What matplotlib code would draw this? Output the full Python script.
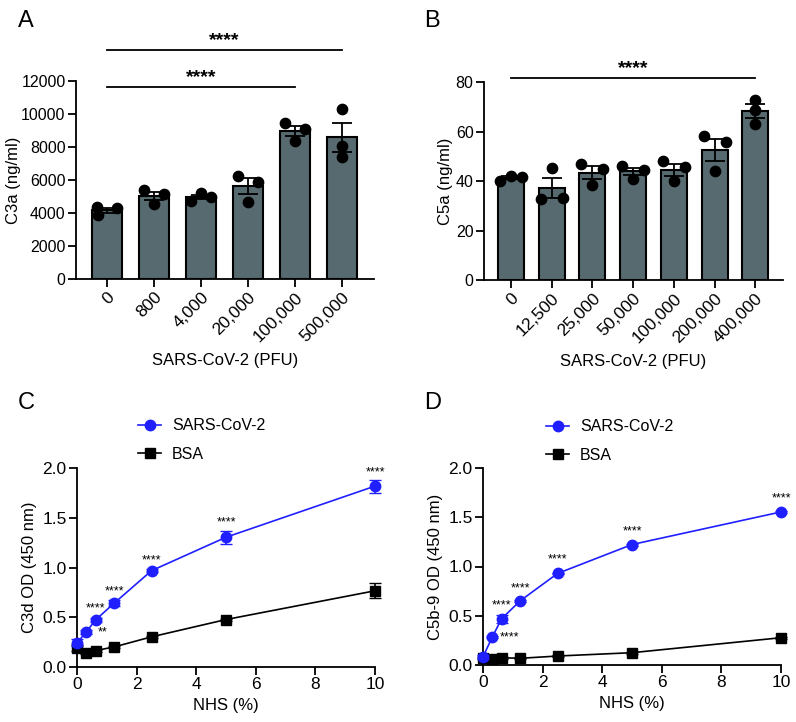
import numpy as np
import matplotlib
matplotlib.use('Agg')
import matplotlib.pyplot as plt
from matplotlib.lines import Line2D

plt.rcParams['font.family'] = ['Liberation Sans', 'DejaVu Sans']
plt.rcParams['axes.linewidth'] = 1.3

# panel A: C3a individual points
a_labels = ['0', '800', '4,000', '20,000', '100,000', '500,000']
a_points = [[4380, 3880, 4280],
            [5390, 4545, 5150],
            [4730, 5190, 4990],
            [6260, 4690, 5900],
            [9430, 8360, 9110],
            [10280, 8080, 7370]]
a_jitter = [[-0.22, -0.2, 0.22], [-0.22, 0, 0.22], [-0.22, 0, 0.22],
            [-0.22, 0, 0.22], [-0.22, 0, 0.22], [0, 0, 0]]

# panel B: C5a individual points
b_labels = ['0', '12,500', '25,000', '50,000', '100,000', '200,000', '400,000']
b_points = [[40.1, 42.2, 41.6],
            [45.2, 32.8, 33.3],
            [46.8, 38.5, 44.9],
            [46.1, 41.0, 44.5],
            [48.2, 39.8, 45.5],
            [58.3, 44.0, 55.6],
            [72.9, 68.8, 63.2]]
b_jitter = [[-0.27, 0, 0.27], [0, -0.27, 0.27], [-0.27, 0, 0.27], [-0.27, 0, 0.27],
            [-0.27, 0, 0.27], [-0.27, 0, 0.27], [0, 0, 0]]

# panels C/D: NHS titration
nhs = [0, 0.3125, 0.625, 1.25, 2.5, 5, 10]
c_sars = [0.242, 0.353, 0.474, 0.642, 0.968, 1.304, 1.818]
c_sars_err = [0.035, 0.02, 0.02, 0.03, 0.015, 0.064, 0.066]
c_bsa = [0.195, 0.145, 0.165, 0.202, 0.303, 0.477, 0.766]
c_bsa_err = [0.03, 0.01, 0.01, 0.01, 0.01, 0.01, 0.074]
d_sars = [0.084, 0.284, 0.470, 0.652, 0.929, 1.223, 1.554]
d_sars_err = [0.02, 0.01, 0.04, 0.01, 0.01, 0.01, 0.01]
d_bsa = [0.074, 0.061, 0.074, 0.068, 0.091, 0.125, 0.277]
d_bsa_err = [0.01, 0.01, 0.01, 0.01, 0.01, 0.01, 0.01]

BAR = '#566a70'
BLUE = '#1f1fff'

fig = plt.figure(figsize=(7.96, 7.22), dpi=100)
W, H = 796., 722.

def box(l, r, b, t):
    return [l / W, 1 - b / H, (r - l) / W, (b - t) / H]

def style(ax):
    for s in ['top', 'right']:
        ax.spines[s].set_visible(False)
    ax.tick_params(direction='out', length=5.5, width=1.3, labelsize=11.5, pad=2)

def bar_panel(ax, labels, points, jitter, ymax, ystep, ylabel, lpad):
    x = np.arange(len(labels))
    pts = np.array(points, dtype=float)
    means = pts.mean(axis=1)
    sem = pts.std(axis=1, ddof=1) / np.sqrt(pts.shape[1])
    ax.bar(x, means, width=0.64, color=BAR, edgecolor='black', linewidth=1.5, zorder=2)
    ax.errorbar(x, means, yerr=sem, fmt='none', ecolor='black', elinewidth=1.3,
                capsize=7, capthick=1.3, zorder=3)
    for i in range(len(labels)):
        ax.scatter(x[i] + np.array(jitter[i]), pts[i], s=55, color='black', zorder=4)
    style(ax)
    ax.set_xticks(x)
    ax.set_xticklabels(labels, rotation=45, ha='right', rotation_mode='anchor', fontsize=12.5)
    ax.set_yticks(np.arange(0, ymax + 1, ystep))
    ax.set_ylim(0, ymax)
    ax.set_xlim(-0.66, len(labels) - 1 + 0.68)
    ax.set_xlabel('SARS-CoV-2 (PFU)', fontsize=12, labelpad=6)
    ax.set_ylabel(ylabel, fontsize=12, labelpad=lpad)

def sig(ax, x0, x1, y, text, dy):
    ax.plot([x0, x1], [y, y], color='black', lw=1.3, clip_on=False)
    ax.text((x0 + x1) / 2, y + dy, text, ha='center', va='bottom', fontsize=14,
            fontweight='bold', clip_on=False)

# A
axA = fig.add_axes(box(76, 374, 279, 81))
bar_panel(axA, a_labels, a_points, a_jitter, 12000, 2000, 'C3a (ng/ml)', 0)
sig(axA, 0, 5, 13900, '****', 60)
sig(axA, 0, 4, 11650, '****', 60)

# B
axB = fig.add_axes(box(484, 783, 280, 82))
bar_panel(axB, b_labels, b_points, b_jitter, 80, 20, 'C5a (ng/ml)', 2)
sig(axB, 0, 6, 81.6, '****', 0.4)

def line_panel(ax, sars, sars_err, bsa, bsa_err, ylabel, stars, side):
    ax.errorbar(nhs, bsa, yerr=bsa_err, color='black', marker='s', ms=7, lw=1.2,
                capsize=4, elinewidth=1.2, clip_on=False, zorder=3)
    ax.errorbar(nhs, sars, yerr=sars_err, color=BLUE, marker='o', ms=7.5, lw=1.2,
                capsize=4, elinewidth=1.2, clip_on=False, zorder=4)
    for xi, yt in zip(nhs[2:], stars):
        ax.text(xi, yt, '****', ha='center', va='bottom', fontsize=9)
    ax.text(side[0], side[1], side[2], ha='left', va='center', fontsize=9)
    style(ax)
    ax.set_xlim(0, 10)
    ax.set_ylim(0, 2.0)
    ax.set_xticks([0, 2, 4, 6, 8, 10])
    ax.set_yticks([0, 0.5, 1.0, 1.5, 2.0])
    ax.set_yticklabels(['0.0', '0.5', '1.0', '1.5', '2.0'])
    ax.tick_params(labelsize=12.5)
    ax.set_xlabel('NHS (%)', fontsize=12, labelpad=4)
    ax.set_ylabel(ylabel, fontsize=12, labelpad=4)

handles = [Line2D([], [], color=BLUE, marker='o', ms=7.5, lw=1.2),
           Line2D([], [], color='black', marker='s', ms=7, lw=1.2)]
names = ['SARS-CoV-2', 'BSA']

# C
axC = fig.add_axes(box(77, 375, 667, 468))
line_panel(axC, c_sars, c_sars_err, c_bsa, c_bsa_err, 'C3d OD (450 nm)',
           [0.53, 0.70, 1.01, 1.39, 1.90], (0.68, 0.345, '**'))
fig.legend(handles, names, loc='upper left', bbox_to_anchor=(124 / W, 1 - 404 / H),
           frameon=False, fontsize=11.5, handlelength=1.4, handletextpad=0.7, labelspacing=0.85)

# D
axD = fig.add_axes(box(483, 781, 665, 468))
line_panel(axD, d_sars, d_sars_err, d_bsa, d_bsa_err, 'C5b-9 OD (450 nm)',
           [0.54, 0.72, 1.01, 1.29, 1.63], (0.55, 0.28, '****'))
fig.legend(handles, names, loc='upper left', bbox_to_anchor=(532 / W, 1 - 405 / H),
           frameon=False, fontsize=11.5, handlelength=1.4, handletextpad=0.7, labelspacing=0.85)

for lab, x, y in [('A', 18, 10), ('B', 424, 10), ('C', 18, 392), ('D', 424, 392)]:
    fig.text(x / W, 1 - y / H, lab, fontsize=17, ha='left', va='top')

fig.savefig('out.png', dpi=100)
